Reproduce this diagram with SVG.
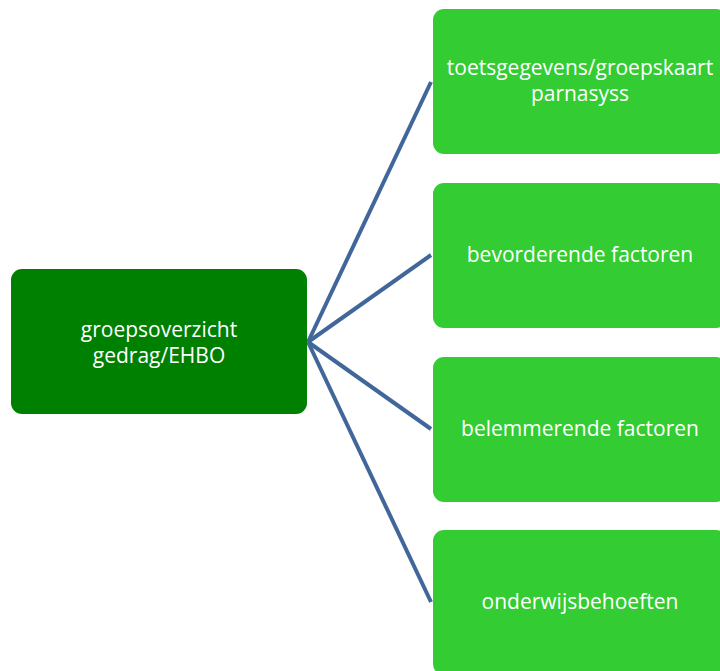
<svg xmlns="http://www.w3.org/2000/svg" width="720" height="671" viewBox="0 0 720 671">
<style>
.n1{fill:#008000}
.n2{fill:#33cc33}
.t{font-family:"Open Sans","Noto Sans",sans-serif;font-size:21px;fill:#ffffff;text-anchor:middle}
.c{stroke:#41679a;stroke-width:4;fill:none}
</style>
<rect width="720" height="671" fill="#ffffff"/>
<g id="connectors">
<line class="c" x1="308" y1="342" x2="431" y2="82"/>
<line class="c" x1="308" y1="342" x2="431" y2="255"/>
<line class="c" x1="308" y1="342" x2="431" y2="429"/>
<line class="c" x1="308" y1="342" x2="431" y2="602"/>
</g>
<g id="root">
<rect class="n1" x="11" y="269" width="296" height="145" rx="11"/>
<text class="t" x="159" y="337">groepsoverzicht</text>
<text class="t" x="159" y="363">gedrag/EHBO</text>
</g>
<g id="node1">
<rect class="n2" x="433" y="9" width="294" height="145" rx="11"/>
<text class="t" x="580" y="75">toetsgegevens/groepskaart</text>
<text class="t" x="580" y="101">parnasyss</text>
</g>
<g id="node2">
<rect class="n2" x="433" y="183" width="294" height="145" rx="11"/>
<text class="t" x="580" y="262">bevorderende factoren</text>
</g>
<g id="node3">
<rect class="n2" x="433" y="357" width="294" height="145" rx="11"/>
<text class="t" x="580" y="436">belemmerende factoren</text>
</g>
<g id="node4">
<rect class="n2" x="433" y="530" width="294" height="145" rx="11"/>
<text class="t" x="580" y="609">onderwijsbehoeften</text>
</g>
</svg>
